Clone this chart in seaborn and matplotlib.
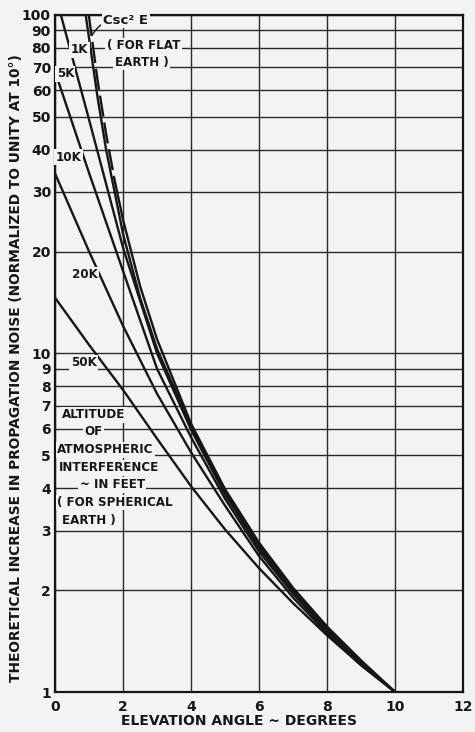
import pandas as pd
import seaborn as sns
import matplotlib.pyplot as plt
from matplotlib.ticker import FixedLocator, FixedFormatter, NullLocator

# values (elevation angle in degrees -> relative noise)
angles = [0, 1, 2, 3, 4, 5, 6, 7, 8, 9, 10]
noise_50k = [14.6, 10.6, 7.8, 5.6, 4.05, 3.02, 2.32, 1.83, 1.47, 1.2, 1.0]
noise_20k = [34, 20.0, 12.05, 7.6, 5.1, 3.55, 2.52, 1.9, 1.49, 1.2, 1.0]
noise_10k = [68, 34.1, 17.5, 9.0, 5.65, 3.72, 2.6, 1.95, 1.51, 1.21, 1.0]

angles_5k = [0.17, 1, 2, 3, 4, 5, 6, 7, 8, 9, 10]
noise_5k = [100, 49, 20.5, 10.0, 5.95, 3.83, 2.66, 1.98, 1.53, 1.22, 1.0]

angles_1k = [0.9, 1.25, 1.5, 2, 2.5, 3, 4, 5, 6, 7, 8, 9, 10]
noise_1k = [100, 57, 40, 22.5, 14.6, 10.3, 6.1, 3.9, 2.71, 2.01, 1.55, 1.23, 1.0]

angles_csc = [0.99, 1.25, 1.5, 1.75, 2, 2.5, 3, 4, 5, 6, 7, 8, 9, 10]
noise_csc = [100, 64, 44.5, 32.5, 24.8, 15.8, 11.0, 6.2, 3.97, 2.76, 2.03, 1.56, 1.24, 1.0]

y_ticks = [1, 2, 3, 4, 5, 6, 7, 8, 9, 10, 20, 30, 40, 50, 60, 70, 80, 90, 100]
x_ticks = [0, 2, 4, 6, 8, 10, 12]

solid = pd.concat([
    pd.DataFrame({"angle": angles, "noise": noise_50k, "curve": "50K"}),
    pd.DataFrame({"angle": angles, "noise": noise_20k, "curve": "20K"}),
    pd.DataFrame({"angle": angles, "noise": noise_10k, "curve": "10K"}),
    pd.DataFrame({"angle": angles_5k, "noise": noise_5k, "curve": "5K"}),
    pd.DataFrame({"angle": angles_1k, "noise": noise_1k, "curve": "1K"}),
])
flat = pd.DataFrame({"angle": angles_csc, "noise": noise_csc})

sns.set_theme(style="white")
plt.rcParams['font.family'] = ['DejaVu Sans']

paper = '#f1f3f4'
ink = '#161616'
fig = plt.figure(figsize=(4.75, 7.32), dpi=100, facecolor=paper)
ax = fig.add_axes([0.116, 0.0546, 0.859, 0.925])
ax.set_facecolor(paper)

sns.lineplot(data=solid, x="angle", y="noise", units="curve", estimator=None,
             color=ink, lw=1.7, sort=False, ax=ax, zorder=4)
# csc^2 curve: dashed near the top, then it runs into the bundle
sns.lineplot(data=flat[flat.angle <= 1.75], x="angle", y="noise", color=ink, lw=1.7,
             ax=ax, zorder=4).lines[-1].set_dashes([9, 2.5])
sns.lineplot(data=flat[flat.angle >= 1.75], x="angle", y="noise", color=ink, lw=1.7,
             ax=ax, zorder=4)

ax.set_yscale('log')
ax.set_xlim(0, 12)
ax.set_ylim(1, 100)

ax.yaxis.set_major_locator(FixedLocator(y_ticks))
ax.yaxis.set_major_formatter(FixedFormatter([str(t) for t in y_ticks]))
ax.yaxis.set_minor_locator(NullLocator())
ax.set_xticks(x_ticks)
ax.set_xticklabels([str(t) for t in x_ticks])
ax.tick_params(axis='both', length=0, labelsize=10, colors=ink)
ax.tick_params(axis='y', pad=3)
ax.tick_params(axis='x', pad=6)
for lab in ax.get_xticklabels() + ax.get_yticklabels():
    lab.set_fontweight('bold')

ax.grid(True, which='major', color='#2a2a2a', lw=1.0, zorder=1)
for sp in ax.spines.values():
    sp.set_color(ink)
    sp.set_linewidth(1.6)

ax.set_xlabel("ELEVATION ANGLE ~ DEGREES", fontsize=10, fontweight='bold', color=ink)
ax.set_ylabel("THEORETICAL INCREASE IN PROPAGATION NOISE (NORMALIZED TO UNITY AT 10°)",
              fontsize=9.9, fontweight='bold', color=ink)
ax.xaxis.set_label_coords(0.45, -0.032)
ax.yaxis.set_label_coords(-0.078, 0.478)

box = dict(boxstyle='square,pad=0.12', fc=paper, ec='none')
txt = dict(fontsize=8.6, fontweight='bold', color=ink, ha='center', va='center', zorder=5, bbox=box)

ax.annotate("Csc² E", xy=(1.08, 87), xytext=(1.42, 96.5), ha='left', va='center',
            fontsize=9.5, fontweight='bold', color=ink, zorder=5, bbox=box,
            arrowprops=dict(arrowstyle='-', color=ink, lw=1.0,
                            connectionstyle='arc3,rad=0.35', shrinkA=1, shrinkB=0))
ax.text(2.6, 81, "( FOR FLAT", **txt)
ax.text(2.55, 72.5, "EARTH )", **txt)

ax.text(0.72, 79, "1K", **txt)
ax.text(0.3, 67, "5K", **txt)
ax.text(0.4, 38, "10K", **txt)
ax.text(0.88, 17.1, "20K", **txt)
ax.text(0.84, 9.4, "50K", **txt)

ax.text(1.13, 6.6, "ALTITUDE", **txt)
ax.text(1.13, 5.9, "OF", **txt)
ax.text(1.48, 5.2, "ATMOSPHERIC", **txt)
ax.text(1.59, 4.6, "INTERFERENCE", **txt)
ax.text(1.68, 4.1, "~ IN FEET", **txt)
ax.text(1.77, 3.63, "( FOR SPHERICAL", **txt)
ax.text(1.0, 3.22, "EARTH )", **txt)

fig.savefig("out.png", dpi=100, facecolor=paper)
